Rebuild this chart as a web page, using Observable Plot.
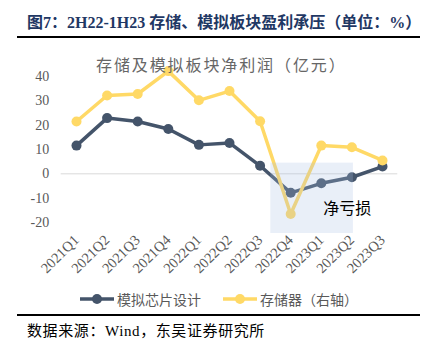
<!DOCTYPE html>
<html><head><meta charset="utf-8">
<script src="https://cdn.jsdelivr.net/npm/d3@7"></script>
<script src="https://cdn.jsdelivr.net/npm/@observablehq/plot@0.6"></script>
<style>
html,body{margin:0;padding:0;background:#fff;}
#wrap{position:relative;width:430px;height:357px;overflow:hidden;font-family:"Liberation Serif","Noto Sans CJK SC",serif;}
#wrap > *{position:absolute;}
#title{left:27px;top:9px;font-size:16px;font-weight:bold;color:#1f3864;white-space:nowrap;}
#rule1{left:17px;top:36px;width:403px;height:2px;background:#000;}
#sub{left:96px;top:52px;font-size:16px;color:#666;letter-spacing:1.9px;white-space:nowrap;}
#legend{left:0;top:289px;width:430px;height:20px;font-size:14px;color:#595959;}
#rule2{left:17px;top:314px;width:403px;height:1.5px;background:#000;}
#source{left:27px;top:319px;font-size:15px;letter-spacing:0.6px;color:#000;white-space:nowrap;}
</style></head>
<body><div id="wrap">
<div id="chart" style="left:0;top:0;"></div>
<div id="title">图7：2H22-1H23 存储、模拟板块盈利承压（单位：%）</div>
<div id="rule1"></div>
<div id="sub">存储及模拟板块净利润（亿元）</div>
<div id="legend"></div>
<div id="rule2"></div>
<div id="source">数据来源：Wind，东吴证券研究所</div>
</div>
<script>
const quarters = ["2021Q1","2021Q2","2021Q3","2021Q4","2022Q1","2022Q2","2022Q3","2022Q4","2023Q1","2023Q2","2023Q3"];
const analog = [11.6, 22.9, 21.5, 18.4, 11.9, 12.7, 3.3, -7.8, -3.9, -1.4, 3.0];
const memory = [21.5, 32.2, 32.8, 42.2, 30.2, 34.0, 21.6, -16.5, 11.6, 10.9, 5.5];
const seriesNames = ["模拟芯片设计", "存储器（右轴）"];
const yTicks = [-20, -10, 0, 10, 20, 30, 40];
const lossBox = {x1: 6.35, x2: 9.05, y1: 4.4, y2: -24.5, label: "净亏损", lx: 8.85, ly: -14.3};

const colors = ["#44546a", "#ffd966"];
const rows = [];
quarters.forEach((q, i) => {
  rows.push({i, q, v: analog[i], s: seriesNames[0]});
});
quarters.forEach((q, i) => {
  rows.push({i, q, v: memory[i], s: seriesNames[1]});
});

const font = '"Liberation Serif","Noto Sans CJK SC",serif';
const chart = Plot.plot({
  width: 430,
  height: 357,
  marginLeft: 60.7,
  marginRight: 32.7,
  marginTop: 63.8,
  marginBottom: 122.8,
  style: {fontFamily: font, background: "transparent", overflow: "visible"},
  x: {domain: [-0.5, 10.5], axis: null},
  y: {domain: [-25, 45], axis: null},
  color: {domain: seriesNames, range: colors},
  marks: [
    Plot.ruleY([0], {stroke: "#d9d9d9", strokeWidth: 1}),
    Plot.line(rows, {x: "i", y: "v", stroke: "s", z: "s", strokeWidth: 3.5}),
    Plot.dot(rows, {x: "i", y: "v", fill: "s", r: 5}),
    Plot.rect([lossBox], {x1: "x1", x2: "x2", y1: "y1", y2: "y2", fill: "rgb(167,191,227)", fillOpacity: 0.25}),
    Plot.text([lossBox], {x: "lx", y: "ly", text: "label", fontSize: 16, fill: "#000", fontFamily: '"Noto Sans CJK SC",sans-serif'}),
    Plot.axisY(yTicks, {tickSize: 0, tickPadding: 12, fontSize: 14, color: "#595959", tickFormat: d => String(d)}),
    Plot.axisX(d3.range(quarters.length), {tickSize: 0, tickPadding: 3, tickRotate: -45, fontSize: 14.5, color: "#595959", tickFormat: i => quarters[i]})
  ]
});
document.getElementById("chart").appendChild(chart);

// legend
const leg = d3.select("#legend");
const items = [{x: 80, name: seriesNames[0], c: colors[0]}, {x: 223, name: seriesNames[1], c: colors[1]}];
items.forEach(it => {
  const svg = leg.append("svg").attr("width", 34).attr("height", 20)
    .style("position", "absolute").style("left", it.x + "px").style("top", "0px");
  svg.append("line").attr("x1", 0).attr("x2", 34).attr("y1", 10).attr("y2", 10)
    .attr("stroke", it.c).attr("stroke-width", 3.5);
  svg.append("circle").attr("cx", 17).attr("cy", 10).attr("r", 5).attr("fill", it.c);
  leg.append("div").text(it.name).style("position", "absolute")
    .style("left", (it.x + 37) + "px").style("top", "0px").style("white-space", "nowrap");
});
</script>
</body></html>
